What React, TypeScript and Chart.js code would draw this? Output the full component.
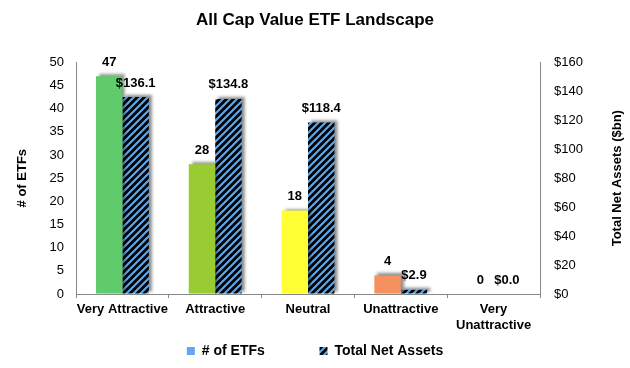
import React, { useEffect, useRef } from "react";
import { Chart, registerables } from "chart.js";

Chart.register(...registerables);

const categories: (string | string[])[] = ["Very Attractive", "Attractive", "Neutral", "Unattractive", ["Very", "Unattractive"]];
const etfCounts = [47, 28, 18, 4, 0];
const netAssets = [136.1, 134.8, 118.4, 2.9, 0.0];
const leftTicks = [0, 5, 10, 15, 20, 25, 30, 35, 40, 45, 50];
const rightTicks = [0, 20, 40, 60, 80, 100, 120, 140, 160];
const barColors = ["#5fcb6b", "#99cc33", "#ffff33", "#f4915f", "#e0463c"];

function makePattern(): CanvasPattern | string {
  const c = document.createElement("canvas");
  const s = 7;
  c.width = s;
  c.height = s;
  const g = c.getContext("2d");
  if (!g) return "#000";
  g.fillStyle = "#000";
  g.fillRect(0, 0, s, s);
  g.strokeStyle = "#5aa8ee";
  g.lineWidth = 2.2;
  g.beginPath();
  g.moveTo(-1, s + 1);
  g.lineTo(s + 1, -1);
  g.moveTo(-1, 1);
  g.lineTo(1, -1);
  g.moveTo(s - 1, s + 1);
  g.lineTo(s + 1, s - 1);
  g.stroke();
  const p = g.createPattern(c, "repeat");
  return p || "#000";
}

export default function App() {
  const ref = useRef<HTMLCanvasElement>(null);
  useEffect(() => {
    document.body.style.margin = "0";
    if (!ref.current) return;
    const pattern = makePattern();
    const font = "'Liberation Sans', Arial, sans-serif";

    const shadowPlugin = {
      id: "shadow",
      beforeDatasetsDraw(chart: any) {
        const ctx = chart.ctx;
        ctx.save();
        ctx.shadowColor = "rgba(0,0,0,0.45)";
        ctx.shadowBlur = 3;
        ctx.shadowOffsetX = 3;
        ctx.shadowOffsetY = -2;
      },
      afterDatasetsDraw(chart: any) {
        chart.ctx.restore();
      },
    };

    const labelPlugin = {
      id: "labels",
      afterDraw(chart: any) {
        const ctx = chart.ctx;
        ctx.save();
        ctx.font = `bold 13px ${font}`;
        ctx.fillStyle = "#000";
        ctx.textAlign = "center";
        ctx.textBaseline = "middle";
        chart.data.datasets.forEach((ds: any, di: number) => {
          const meta = chart.getDatasetMeta(di);
          meta.data.forEach((bar: any, i: number) => {
            const v = ds.data[i];
            const txt = di === 0 ? String(v) : "$" + v.toFixed(1);
            ctx.fillText(txt, bar.x, bar.y - 14);
          });
        });
        // right axis title, reading bottom-to-top
        const ca = chart.chartArea;
        ctx.font = `bold 13px ${font}`;
        ctx.translate(617, (ca.top + ca.bottom) / 2);
        ctx.rotate(-Math.PI / 2);
        ctx.fillText("Total Net Assets ($bn)", 0, 0);
        ctx.restore();
      },
    };

    const chart = new Chart(ref.current, {
      type: "bar",
      data: {
        labels: categories,
        datasets: [
          {
            label: "# of ETFs",
            data: etfCounts,
            backgroundColor: barColors,
            yAxisID: "y",
            categoryPercentage: 0.57,
            barPercentage: 1.0,
          },
          {
            label: "Total Net Assets",
            data: netAssets,
            backgroundColor: pattern as any,
            yAxisID: "y1",
            categoryPercentage: 0.57,
            barPercentage: 1.0,
          },
        ],
      },
      options: {
        animation: false,
        responsive: false,
        maintainAspectRatio: false,
        layout: { padding: { top: 0, bottom: 0, left: 0, right: 0 } },
        plugins: {
          title: {
            display: true,
            text: "All Cap Value ETF Landscape",
            color: "#000",
            font: { family: font, size: 17, weight: "bold" },
            padding: { top: 10, bottom: 32 },
          },
          legend: {
            position: "bottom",
            labels: {
              color: "#000",
              font: { family: font, size: 14, weight: "bold" },
              boxWidth: 8,
              boxHeight: 8,
              padding: 8,
              generateLabels: () => [
                { text: "# of ETFs" + "\u00a0".repeat(12), fillStyle: "#5fa8f0", strokeStyle: "rgba(0,0,0,0)", lineWidth: 0, datasetIndex: 0, hidden: false } as any,
                { text: "Total Net Assets", fillStyle: pattern as any, strokeStyle: "rgba(0,0,0,0)", lineWidth: 0, datasetIndex: 1, hidden: false } as any,
              ],
            },
          },
          tooltip: { enabled: false },
        },
        scales: {
          x: {
            grid: {
              offset: true,
              drawOnChartArea: false,
              drawTicks: true,
              tickLength: 4,
              color: "#888",
            },
            border: { color: "#888" },
            ticks: {
              color: "#000",
              font: { family: font, size: 13, weight: "bold" },
              padding: 4,
              maxRotation: 0,
              autoSkip: false,
            },
            afterFit: (s: any) => {
              s.height = 42;
            },
          },
          y: {
            position: "left",
            min: 0,
            max: 50,
            afterBuildTicks: (s: any) => {
              s.ticks = leftTicks.map((v) => ({ value: v }));
            },
            grid: { drawOnChartArea: false, drawTicks: false },
            border: { color: "#888" },
            ticks: {
              color: "#000",
              font: { family: font, size: 13 },
              padding: 12,
            },
            title: {
              display: true,
              text: "# of ETFs",
              color: "#000",
              font: { family: font, size: 13, weight: "bold" },
              padding: { top: 15, bottom: 0 },
            },
            afterFit: (s: any) => {
              s.width = 76;
            },
          },
          y1: {
            position: "right",
            min: 0,
            max: 160,
            afterBuildTicks: (s: any) => {
              s.ticks = rightTicks.map((v) => ({ value: v }));
            },
            grid: { drawOnChartArea: false, drawTicks: false },
            border: { color: "#888" },
            ticks: {
              color: "#000",
              font: { family: font, size: 13 },
              padding: 14,
              callback: (v: any) => "$" + v,
            },
            afterFit: (s: any) => {
              s.width = 90;
            },
          },
        },
      },
      plugins: [shadowPlugin, labelPlugin],
    });
    return () => chart.destroy();
  }, []);

  return (
    <div style={{ width: 630, height: 368, background: "#fff" }}>
      <canvas ref={ref} width={630} height={368} style={{ display: "block" }} />
    </div>
  );
}
